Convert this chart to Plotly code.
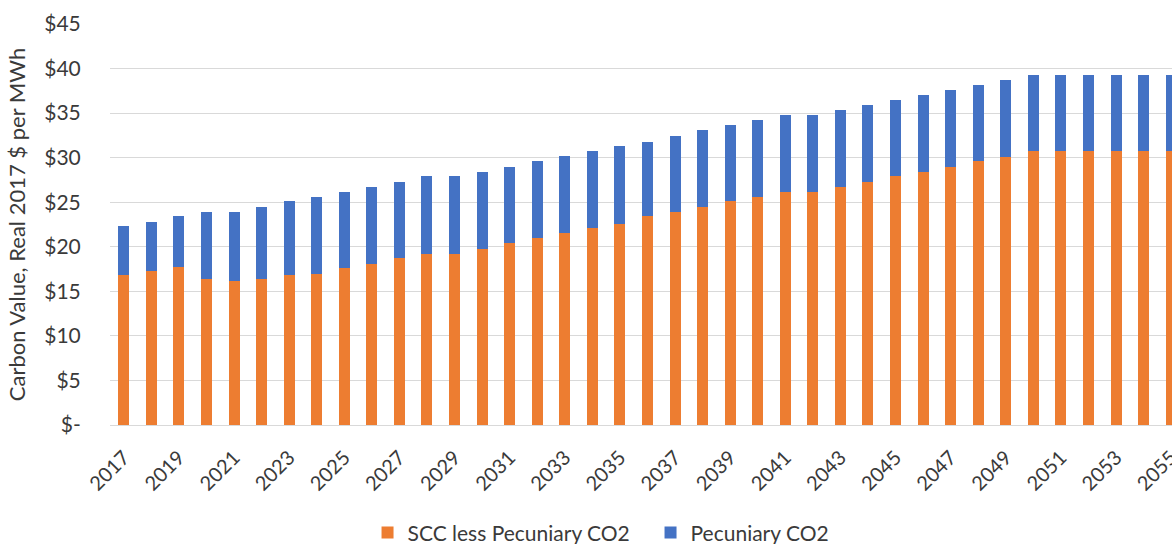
import plotly.graph_objects as go

years = list(range(2017, 2056))
scc_less_pecuniary = [16.8, 17.3, 17.7, 16.4, 16.2, 16.4, 16.8, 17.0, 17.6, 18.1,
                      18.7, 19.2, 19.2, 19.8, 20.4, 21.0, 21.5, 22.1, 22.6, 23.4,
                      23.9, 24.5, 25.1, 25.6, 26.2, 26.2, 26.7, 27.3, 27.9, 28.4,
                      29.0, 29.6, 30.1, 30.7, 30.7, 30.7, 30.7, 30.7, 30.7]
pecuniary = [5.5, 5.5, 5.7, 7.5, 7.7, 8.1, 8.3, 8.6, 8.6, 8.6,
             8.6, 8.7, 8.7, 8.6, 8.6, 8.6, 8.7, 8.6, 8.7, 8.4,
             8.5, 8.6, 8.6, 8.6, 8.6, 8.6, 8.7, 8.6, 8.6, 8.6,
             8.6, 8.6, 8.6, 8.6, 8.6, 8.6, 8.6, 8.6, 8.6]
y_ticks = [0, 5, 10, 15, 20, 25, 30, 35, 40, 45]
y_ticktext = ["$-", "$5", "$10", "$15", "$20", "$25", "$30", "$35", "$40", "$45"]
x_ticks = list(range(2017, 2056, 2))

FONT = "Lato"
TXT = "#3a3a3a"

fig = go.Figure()
fig.add_trace(go.Bar(x=years, y=scc_less_pecuniary, name="SCC less Pecuniary CO2",
                     marker=dict(color="#ED7D31", line=dict(width=0))))
fig.add_trace(go.Bar(x=years, y=pecuniary, name="Pecuniary CO2",
                     marker=dict(color="#4472C4", line=dict(width=0))))

fig.update_layout(
    width=1172, height=544,
    margin=dict(l=110, r=0, t=24, b=119, autoexpand=False),
    barmode="stack", bargap=0.6,
    paper_bgcolor="white", plot_bgcolor="white",
    font=dict(family=FONT, size=21, color=TXT),
    legend=dict(orientation="h", x=0.2425, xanchor="left", y=-0.269, yanchor="middle",
                font=dict(size=21, color=TXT), traceorder="normal",
                itemwidth=30, entrywidth=238),
    showlegend=True,
)
fig.update_xaxes(
    range=[2016.5, 2055.03], tickmode="array", tickvals=x_ticks,
    ticktext=[str(v) for v in x_ticks], tickangle=-45, automargin=False,
    ticklabeloverflow="allow",
    showgrid=False, showline=True, linecolor="#D9D9D9", linewidth=1,
    ticks="outside", ticklen=12, tickcolor="rgba(0,0,0,0)", tickfont=dict(size=20, color=TXT),
)
fig.update_yaxes(
    range=[0, 45], tickmode="array", tickvals=y_ticks, ticktext=y_ticktext,
    showgrid=True, gridcolor="#D9D9D9", gridwidth=1, zeroline=False, automargin=False,
    ticks="outside", ticklen=24, tickcolor="rgba(0,0,0,0)",
    tickfont=dict(size=21, color=TXT),
    title=dict(text="Carbon Value, Real 2017 $ per MWh", font=dict(size=22, color=TXT), standoff=12),
)

fig.write_html("out.html", config={"displayModeBar": False},
               post_script="document.body.style.margin='0px';document.body.style.overflow='hidden';")
